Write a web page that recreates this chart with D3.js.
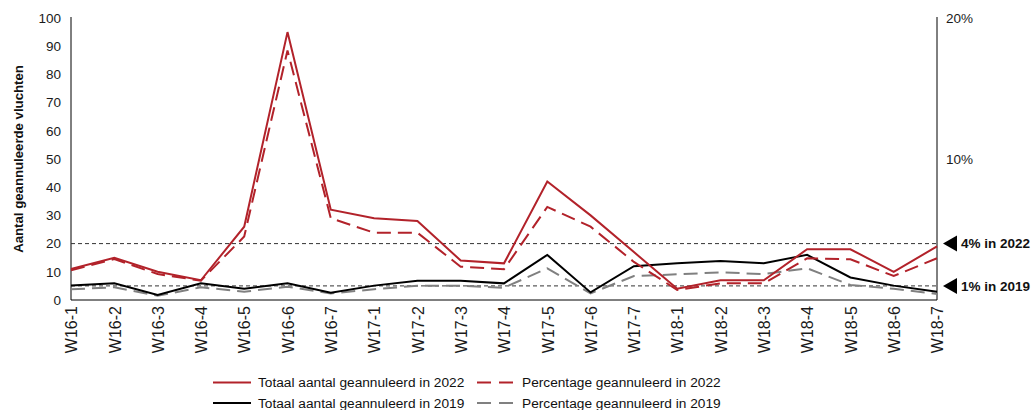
<!DOCTYPE html>
<html>
<head>
<meta charset="utf-8">
<script src="https://cdn.jsdelivr.net/npm/d3@7"></script>
<style>
  html, body { margin: 0; padding: 0; background: #fff; }
  svg { display: block; font-family: "Liberation Sans", Arial, sans-serif; }
</style>
</head>
<body>
<svg id="chart" width="1033" height="410"></svg>
<script>
// Weeks on the x axis
const weeks = ["W16-1","W16-2","W16-3","W16-4","W16-5","W16-6","W16-7",
               "W17-1","W17-2","W17-3","W17-4","W17-5","W17-6","W17-7",
               "W18-1","W18-2","W18-3","W18-4","W18-5","W18-6","W18-7"];

// Number of cancelled flights (left axis)
const total2022 = [11, 15, 10, 7, 26, 95, 32, 29, 28, 14, 13, 42, 30, 17, 4, 7, 7, 18, 18, 10, 19];
const total2019 = [5.1, 5.9, 1.8, 5.9, 4, 5.9, 2.6, 5.1, 6.8, 6.8, 5.9, 16, 2.7, 12, 13, 13.8, 13, 16, 8, 5.1, 2.9];

// Share of cancelled flights in percent (right axis)
const pct2022 = [2.1, 2.9, 1.84, 1.37, 4.5, 17.7, 5.8, 4.77, 4.77, 2.36, 2.18, 6.6, 5.2, 2.7, 0.71, 1.18, 1.18, 2.96, 2.89, 1.7, 2.96];
const pct2019 = [0.76, 0.9, 0.3, 0.9, 0.59, 0.94, 0.47, 0.76, 1.01, 1.01, 0.87, 2.25, 0.47, 1.7, 1.82, 1.96, 1.84, 2.25, 1.06, 0.8, 0.43];

// Tick values
const leftTicks = [0, 10, 20, 30, 40, 50, 60, 70, 80, 90, 100];
const rightTicks = [10, 20];

// Reference levels (percent, right axis)
const refValues = [4, 1];
const refLabels = ["4% in 2022", "1% in 2019"];

// Series definitions
const seriesNames = ["Totaal aantal geannuleerd in 2022", "Percentage geannuleerd in 2022",
                     "Totaal aantal geannuleerd in 2019", "Percentage geannuleerd in 2019"];

const RED = "#b2222a", GREY = "#808080", BLACK = "#000000";

const svg = d3.select("#chart");

const x = d3.scalePoint().domain(weeks).range([71, 937]);
const yL = d3.scaleLinear().domain([0, 100]).range([300, 18]);
const yR = d3.scaleLinear().domain([0, 20]).range([300, 18]);

// Axes
const axL = svg.append("g").attr("transform", "translate(71,0)")
  .call(d3.axisLeft(yL).tickValues(leftTicks).tickSize(0).tickPadding(10));
axL.select(".domain").attr("stroke", "#000").attr("d", `M0,${yL(0)}V${yL(100) - 1}`);
axL.selectAll("text").attr("font-size", 13.5).attr("fill", "#1a1a1a").attr("font-family", "Liberation Sans, Arial, sans-serif");

const axR = svg.append("g").attr("transform", "translate(937,0)")
  .call(d3.axisRight(yR).tickValues(rightTicks).tickFormat(d => d + "%").tickSize(0).tickPadding(9));
axR.select(".domain").attr("stroke", "#000").attr("d", `M0,${yR(0)}V${yR(20) - 1}`);
axR.selectAll("text").attr("font-size", 13.5).attr("fill", "#1a1a1a").attr("font-family", "Liberation Sans, Arial, sans-serif");

const axB = svg.append("g").attr("transform", "translate(0,300)")
  .call(d3.axisBottom(x).tickSize(0).tickPadding(0));
axB.select(".domain").attr("stroke", "#000").attr("d", `M${x(weeks[0])},0H${x(weeks[weeks.length - 1])}`);
axB.selectAll("text")
  .attr("font-size", 16).attr("fill", "#1a1a1a").attr("font-family", "Liberation Sans, Arial, sans-serif")
  .attr("text-anchor", "end")
  .attr("transform", "translate(0,6) rotate(-90)")
  .attr("x", 0).attr("y", 0).attr("dy", "0.36em");

// Axis title
svg.append("text")
  .attr("transform", `translate(18,${(yL(0) + yL(100)) / 2}) rotate(-90)`)
  .attr("text-anchor", "middle").attr("dy", "0.35em")
  .attr("font-size", 13.2).attr("font-weight", "bold").attr("fill", "#111")
  .text("Aantal geannuleerde vluchten");

// Reference lines with markers
const refG = svg.append("g");
refValues.forEach((v, i) => {
  const yy = yR(v);
  refG.append("line")
    .attr("x1", x(weeks[0])).attr("x2", x(weeks[weeks.length - 1]))
    .attr("y1", yy).attr("y2", yy)
    .attr("stroke", "#333").attr("stroke-width", 1).attr("stroke-dasharray", "4,3");
  refG.append("path")
    .attr("d", `M943,${yy}L957,${yy - 8}L957,${yy + 8}Z`)
    .attr("fill", "#000");
  refG.append("text")
    .attr("x", 961).attr("y", yy).attr("dy", "0.36em")
    .attr("font-size", 13.5).attr("font-weight", "bold").attr("fill", "#111")
    .text(refLabels[i]);
});

// Lines
const lineL = d3.line().x((d, i) => x(weeks[i])).y(d => yL(d));
const lineR = d3.line().x((d, i) => x(weeks[i])).y(d => yR(d));

const series = [
  { values: pct2019, gen: lineR, color: GREY, dash: "14,7" },
  { values: total2019, gen: lineL, color: BLACK, dash: null },
  { values: pct2022, gen: lineR, color: RED, dash: "14,7" },
  { values: total2022, gen: lineL, color: RED, dash: null }
];
series.forEach(s => {
  svg.append("path")
    .attr("d", s.gen(s.values))
    .attr("fill", "none")
    .attr("stroke", s.color)
    .attr("stroke-width", 2)
    .attr("stroke-linejoin", "miter")
    .attr("stroke-dasharray", s.dash);
});

// Legend
const legendItems = [
  { name: seriesNames[0], color: RED, dash: null, col: 0, row: 0 },
  { name: seriesNames[1], color: RED, dash: "14,8", col: 1, row: 0 },
  { name: seriesNames[2], color: BLACK, dash: null, col: 0, row: 1 },
  { name: seriesNames[3], color: GREY, dash: "14,8", col: 1, row: 1 }
];
const colX = [213, 477], rowY = [382.5, 403];
const lg = svg.append("g");
legendItems.forEach(it => {
  const lx = colX[it.col], ly = rowY[it.row];
  lg.append("line")
    .attr("x1", lx).attr("x2", lx + 38).attr("y1", ly).attr("y2", ly)
    .attr("stroke", it.color).attr("stroke-width", 2).attr("stroke-dasharray", it.dash);
  lg.append("text")
    .attr("x", lx + 45).attr("y", ly).attr("dy", "0.35em")
    .attr("font-size", 13.7).attr("fill", "#111")
    .text(it.name);
});
</script>
</body>
</html>
